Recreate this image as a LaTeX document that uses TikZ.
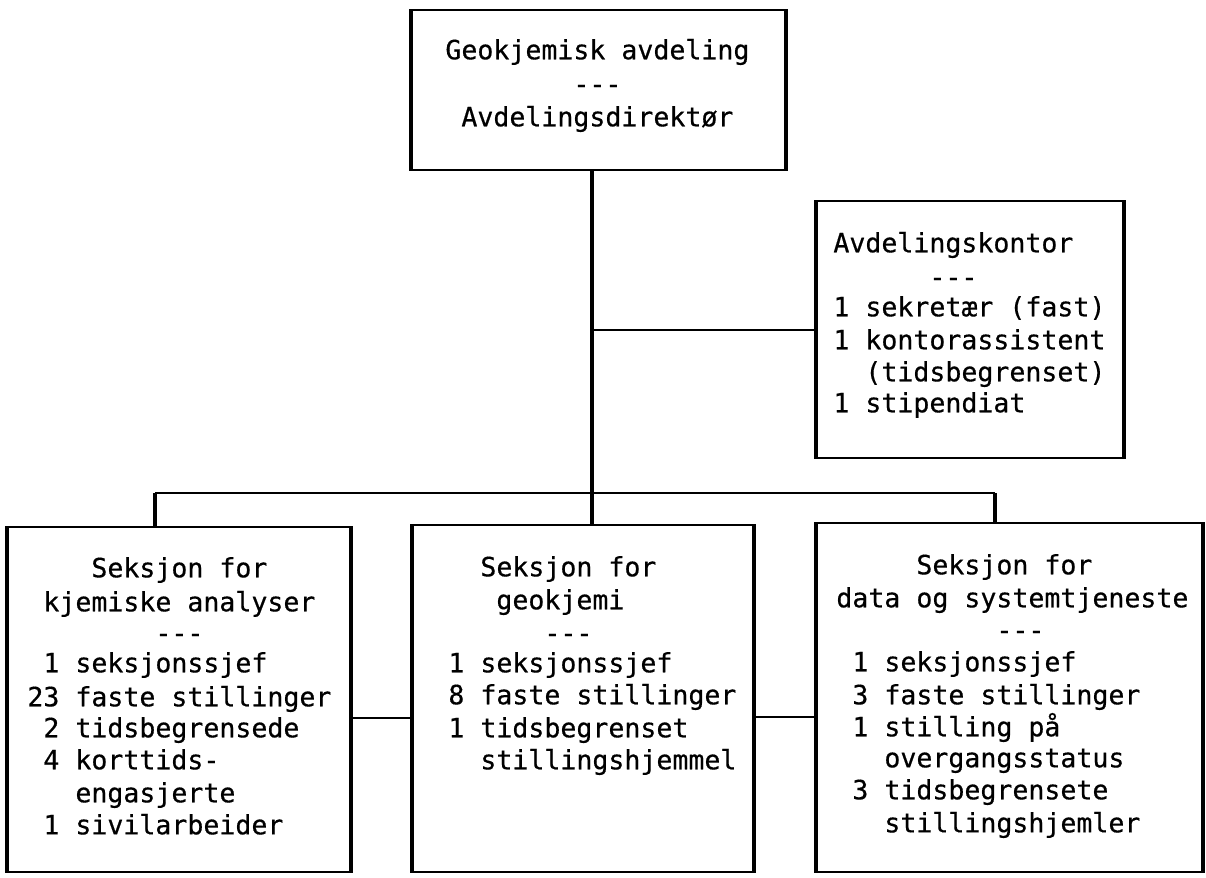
\documentclass[tikz,border=0pt]{standalone}
\usepackage{fontspec}
\newfontfamily\mono[FakeBold=0.5]{DejaVu Sans Mono}
\usetikzlibrary{fit}
\begin{document}
\begin{tikzpicture}[x=0.5pt,y=-0.5pt,
  box/.style={draw,line width=1pt,inner sep=0pt},
  side/.style={line width=1.8pt},
  vline/.style={line width=1.6pt},
  hline/.style={line width=1pt},
  txt/.style={font=\mono\fontsize{13.29}{16}\selectfont,inner sep=0pt,anchor=mid west}]
\useasboundingbox (0,0) rectangle (1206,878);

% boxes
\node[box,fit={(412,10) (785,170)}] (top) {};
\node[box,fit={(817,201) (1123,458)}] (kont) {};
\node[box,fit={(8,527) (350,872)}] (left) {};
\node[box,fit={(413,525) (753,872)}] (mid) {};
\node[box,fit={(817,523) (1202,872)}] (right) {};
\foreach \b in {top,kont,left,mid,right}{
  \draw[side] (\b.north west) -- (\b.south west);
  \draw[side] (\b.north east) -- (\b.south east);
}

% connectors
\coordinate (tr) at (592,493);
\coordinate (bl) at (155,493);
\coordinate (br) at (995,493);
\coordinate (c1) at (0,718);
\coordinate (c2) at (0,717);
\draw[vline] (top.south -| tr) -- (mid.north -| tr);
\draw[hline] (kont.west) -- (kont.west -| tr);
\draw[hline] (bl) -- (br);
\draw[vline] (bl) -- (left.north -| bl);
\draw[vline] (br) -- (right.north -| br);
\draw[hline] (left.east |- c1) -- (mid.west |- c1);
\draw[hline] (mid.east |- c2) -- (right.west |- c2);

% top box text
\node[txt] (t1) at (445,55) {Geokjemisk avdeling};
\node[txt] (t2) at (573,89) {---};
\node[txt] (t3) at (461,122) {Avdelingsdirektør};

% Avdelingskontor
\node[txt] (k1) at (833,248) {Avdelingskontor};
\node[txt] (k2) at (929,282) {---};
\node[txt] (k3) at (833,312) {1 sekretær (fast)};
\node[txt] (k4) at (833,345) {1 kontorassistent};
\node[txt] (k5) at (865,377) {(tidsbegrenset)};
\node[txt] (k6) at (833,408) {1 stipendiat};

% left section
\node[txt] (l1) at (91,573) {Seksjon for};
\node[txt] (l2) at (43,607) {kjemiske analyser};
\node[txt] (l3) at (155,638) {---};
\node[txt] (l4) at (43,668) {1 seksjonssjef};
\node[txt] (l5) at (27,702) {23 faste stillinger};
\node[txt] (l6) at (43,733) {2 tidsbegrensede};
\node[txt] (l7) at (43,765) {4 korttids-};
\node[txt] (l8) at (75,798) {engasjerte};
\node[txt] (l9) at (43,830) {1 sivilarbeider};

% middle section
\node[txt] (m1) at (480,572) {Seksjon for};
\node[txt] (m2) at (496,605) {geokjemi};
\node[txt] (m3) at (544,638) {---};
\node[txt] (m4) at (448,668) {1 seksjonssjef};
\node[txt] (m5) at (448,700) {8 faste stillinger};
\node[txt] (m6) at (448,733) {1 tidsbegrenset};
\node[txt] (m7) at (480,765) {stillingshjemmel};

% right section
\node[txt] (r1) at (916,570) {Seksjon for};
\node[txt] (r2) at (836,603) {data og systemtjeneste};
\node[txt] (r3) at (996,635) {---};
\node[txt] (r4) at (852,667) {1 seksjonssjef};
\node[txt] (r5) at (852,700) {3 faste stillinger};
\node[txt] (r6) at (852,732) {1 stilling på};
\node[txt] (r7) at (884,763) {overgangsstatus};
\node[txt] (r8) at (852,795) {3 tidsbegrensete};
\node[txt] (r9) at (884,828) {stillingshjemler};
\end{tikzpicture}
\end{document}
